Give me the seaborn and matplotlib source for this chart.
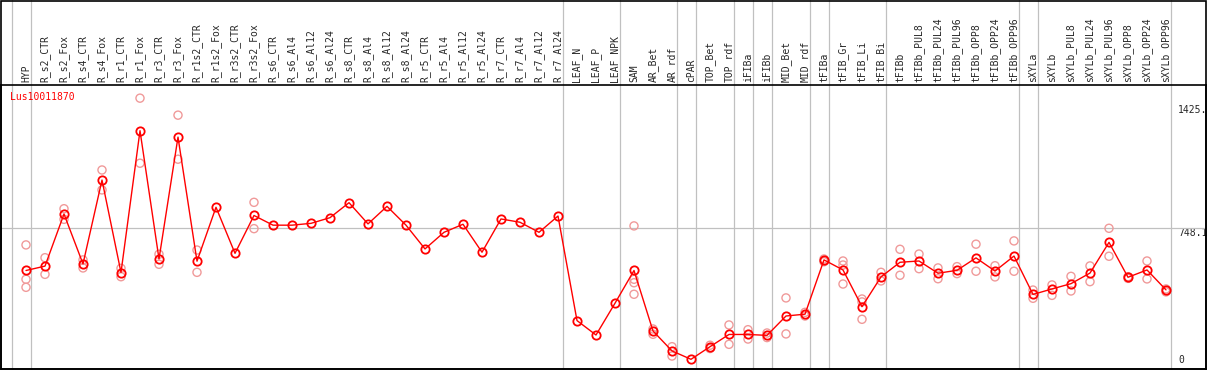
import numpy as np
import pandas as pd
import matplotlib.pyplot as plt
from matplotlib.patches import Rectangle
import seaborn as sns

gene = 'Lus10011870'

categories = ['HYP', 'R_s2_CTR', 'R_s2_Fox', 'R_s4_CTR', 'R_s4_Fox', 'R_r1_CTR', 'R_r1_Fox',
              'R_r3_CTR', 'R_r3_Fox', 'R_r1s2_CTR', 'R_r1s2_Fox', 'R_r3s2_CTR', 'R_r3s2_Fox',
              'R_s6_CTR', 'R_s6_Al4', 'R_s6_Al12', 'R_s6_Al24', 'R_s8_CTR', 'R_s8_Al4',
              'R_s8_Al12', 'R_s8_Al24', 'R_r5_CTR', 'R_r5_Al4', 'R_r5_Al12', 'R_r5_Al24',
              'R_r7_CTR', 'R_r7_Al4', 'R_r7_Al12', 'R_r7_Al24', 'LEAF_N', 'LEAF_P', 'LEAF_NPK',
              'SAM', 'AR_Bet', 'AR_rdf', 'cPAR', 'TOP_Bet', 'TOP_rdf', 'iFIBa', 'iFIBb',
              'MID_Bet', 'MID_rdf', 'tFIBa', 'tFIB_Gr', 'tFIB_Li', 'tFIB_Bi', 'tFIBb',
              'tFIBb_PUL8', 'tFIBb_PUL24', 'tFIBb_PUL96', 'tFIBb_OPP8', 'tFIBb_OPP24',
              'tFIBb_OPP96', 'sXYLa', 'sXYLb', 'sXYLb_PUL8', 'sXYLb_PUL24', 'sXYLb_PUL96',
              'sXYLb_OPP8', 'sXYLb_OPP24', 'sXYLb_OPP96']

means = [517, 541, 826, 553, 1012, 506, 1282, 580, 1247, 568, 863, 611, 818,
         765, 765, 775, 806, 888, 772, 868, 765, 635, 726, 770, 617, 799, 781, 726, 815,
         243, 164, 338, 517, 186, 77, 31, 100, 167, 167, 162, 268, 278, 575, 520, 319, 482,
         562, 569, 502, 518, 586, 514, 596, 386, 416, 445, 503, 671, 480, 520, 411]

replicates = [[657, 469, 425], [587, 496], [855, 797], [575, 531], [1067, 958], [529, 483],
              [1460, 1104], [606, 551], [1367, 1126], [629, 507], [], [], [890, 746],
              [], [], [], [], [], [], [], [], [], [], [], [], [], [], [], [],
              [], [], [], [761, 469, 450, 387], [197, 168], [100, 49], [], [108, 90],
              [219, 113], [193, 142], [175, 150], [367, 170], [288, 268], [580, 565],
              [569, 547, 443], [361, 345, 250], [507, 460], [633, 491], [607, 527],
              [531, 472], [538, 500], [661, 513], [543, 482], [679, 513], [410, 365],
              [438, 381], [485, 405], [542, 456], [748, 595], [483, 474], [569, 471],
              [416, 400]]

group_sizes = [1, 28, 3, 3, 1, 2, 1, 1, 2, 1, 3, 7, 1, 7]

y_ticks = [0, 748.1, 1425]
y_tick_labels = ['0', '748.1', '1425.']

sns.set_style('white')
plt.rcParams['font.family'] = ['DejaVu Sans Mono']

df = pd.DataFrame({'pos': np.arange(len(categories)), 'mean': means})
rep_df = pd.DataFrame([(i, v) for i, vals in enumerate(replicates) for v in vals],
                      columns=['pos', 'value'])

fig = plt.figure(figsize=(12.09, 3.70), dpi=100)
ax = fig.add_axes([1 / 1209, 1 / 370, 1205 / 1209, 284 / 370])

# group separators, full figure height
bounds = np.concatenate([[-0.75], np.cumsum(group_sizes) - 0.75])
for b in bounds:
    ax.axvline(b, ymin=0, ymax=369 / 284, clip_on=False, color='#c0c0c0', lw=0.9, zorder=1)
ax.axhline(748.1, color='#c0c0c0', lw=0.9, zorder=1)

sns.scatterplot(data=rep_df, x='pos', y='value', s=34, facecolors='none',
                edgecolor='#f09a9a', linewidth=1.0, zorder=2, ax=ax)
sns.lineplot(data=df, x='pos', y='mean', color='red', lw=1, marker='o', markersize=6,
             mfc='none', markeredgecolor='red', markeredgewidth=1.3, zorder=3, ax=ax)

ax.set_xlim((1 - 26) / 19, (1206 - 26) / 19)
ax.set_ylim(-22, 1532)
ax.set_xlabel('')
ax.set_ylabel('')

ax.set_xticks(df['pos'])
ax.set_xticklabels(categories, rotation=90)
ax.tick_params(axis='x', length=0, pad=2, labelsize=7, top=True, labeltop=True,
               bottom=False, labelbottom=False)

ax.yaxis.tick_right()
ax.set_yticks(y_ticks)
ax.set_yticklabels(y_tick_labels)
ax.tick_params(axis='y', length=0, pad=-20, labelsize=7)
for lbl in ax.get_yticklabels():
    lbl.set_va('bottom' if lbl.get_text() == '0' else 'top')

for s in ax.spines.values():
    s.set_color('black')
    s.set_linewidth(1.2)

ax.text(0.0075, 0.958, gene, transform=ax.transAxes, color='red', fontsize=7,
        va='center', ha='left')

fig.add_artist(Rectangle((1 / 1209, 1 / 370), 1205 / 1209, 368.5 / 370,
                         transform=fig.transFigure, fill=False, ec='black', lw=1.2))

fig.savefig('out.png', dpi=100)
